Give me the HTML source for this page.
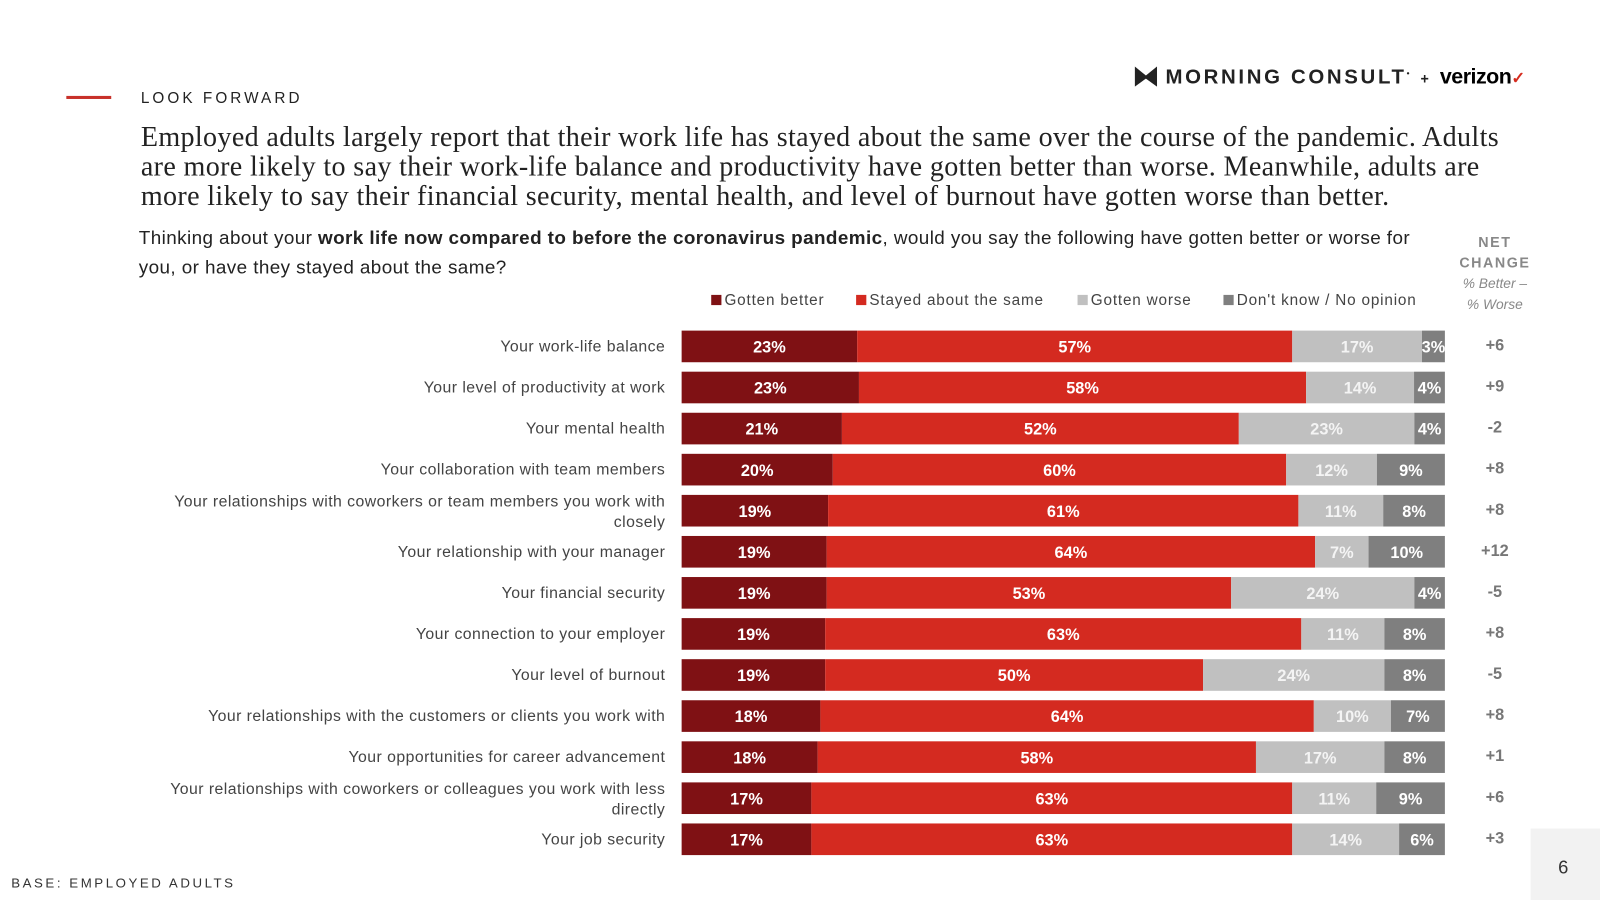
<!DOCTYPE html>
<html><head><meta charset="utf-8"><style>
body{margin:0;width:1600px;height:900px;background:#fff;position:relative;overflow:hidden;font-family:"Liberation Sans",sans-serif;}
#wrap{position:absolute;left:0;top:0;width:1568px;height:882px;transform:scale(1.0204);transform-origin:0 0;}
.abs{position:absolute;}
</style></head><body>
<div id="wrap">
<div class="abs" style="left:65px;top:94px;width:44px;height:3px;background:#c8312a"></div>
<div class="abs" style="left:138px;top:88px;font-size:15px;letter-spacing:3px;color:#222">LOOK FORWARD</div>
<div class="abs" style="left:1112px;top:64px;font-size:20px;font-weight:bold;letter-spacing:2.6px;color:#222;white-space:nowrap">
<span style="display:inline-block;width:22px;height:20px;background:#222;vertical-align:-3px;clip-path:polygon(0 0,50% 45%,100% 0,100% 100%,50% 60%,0 100%)"></span> MORNING CONSULT<sup style="font-size:8px">•</sup> <span style="font-size:14px">+</span> <span style="letter-spacing:-0.5px;font-size:21px;font-weight:bold;color:#000">verizon</span><span style="color:#d52b1e;font-size:16px">✓</span></div>
<div class="abs" style="left:138px;top:119px;width:1420px;white-space:nowrap;font-family:'Liberation Serif',serif;font-size:27.5px;letter-spacing:0.35px;line-height:29px;color:#222">Employed adults largely report that their work life has stayed about the same over the course of the pandemic. Adults<br>are more likely to say their work-life balance and productivity have gotten better than worse. Meanwhile, adults are<br>more likely to say their financial security, mental health, and level of burnout have gotten worse than better.</div>
<div class="abs" style="left:136px;top:218px;width:1300px;white-space:nowrap;font-size:18.5px;line-height:29px;color:#222;letter-spacing:0.4px">Thinking about your <b>work life now compared to before the coronavirus pandemic</b>, would you say the following have gotten better or worse for<br>you, or have they stayed about the same?</div>
<div class="abs" style="left:1415px;top:227px;width:100px;text-align:center;color:#888;font-size:14px;line-height:20px"><b style="letter-spacing:1.5px">NET<br>CHANGE</b><br><i style="font-size:13.5px">% Better –<br>% Worse</i></div>
<svg class="abs" style="left:0;top:0" width="1568" height="882" id="chart"></svg>
<div class="abs" style="left:11px;top:858px;font-size:13px;letter-spacing:2.5px;color:#333">BASE: EMPLOYED ADULTS</div>
<div class="abs" style="left:1500px;top:812px;width:68px;height:70px;background:#f2f2f2"></div>
<div class="abs" style="left:1527px;top:840px;font-size:18px;color:#333">6</div>
</div>
<script>
const categories=["Your work-life balance","Your level of productivity at work","Your mental health","Your collaboration with team members","Your relationships with coworkers or team members you work with|closely","Your relationship with your manager","Your financial security","Your connection to your employer","Your level of burnout","Your relationships with the customers or clients you work with","Your opportunities for career advancement","Your relationships with coworkers or colleagues you work with less|directly","Your job security"];
const better=[23,23,21,20,19,19,19,19,19,18,18,17,17];
const same=[57,58,52,60,61,64,53,63,50,64,58,63,63];
const worse=[17,14,23,12,11,7,24,11,24,10,17,11,14];
const dk=[3,4,4,9,8,10,4,8,8,7,8,9,6];
const net=["+6","+9","-2","+8","+8","+12","-5","+8","-5","+8","+1","+6","+3"];
const seriesNames=["Gotten better","Stayed about the same","Gotten worse","Don't know / No opinion"];
const colors=["#7f1114","#d42a20","#c0c0c0","#7f7f7f"];
const svg=document.getElementById('chart');const NS='http://www.w3.org/2000/svg';
const x0=668,x1=1416,y0=324,step=40.25,bh=31;
function mk(t,a){const e=document.createElementNS(NS,t);for(const k in a)e.setAttribute(k,a[k]);svg.appendChild(e);return e;}
const legX=[697,839,1056,1199];
seriesNames.forEach((n,i)=>{
 const r=mk('rect',{x:legX[i],y:289,width:10,height:10,fill:colors[i]});
 
 
 const t=mk('text',{x:legX[i]+13,y:299,'font-size':15,'letter-spacing':0.8,fill:'#444','font-family':'Liberation Sans'});t.textContent=n;
 
 
});
categories.forEach((c,i)=>{
 const y=y0+i*step,cy=y+bh/2;
 const vals=[better[i],same[i],worse[i],dk[i]];const tot=vals.reduce((a,b)=>a+b,0);
 let x=x0;
 vals.forEach((v,j)=>{
  const w=v/tot*(x1-x0);
  const r=mk('rect',{x:x,y:y,width:w,height:bh,fill:colors[j]});
  
  
  const t=mk('text',{x:x+w/2,y:cy+6,'text-anchor':'middle','font-size':16,'font-weight':'bold',fill:j==2?'#f4f4f4':'#fff','font-family':'Liberation Sans'});
  t.textContent=v+'%';
  
  
  x+=w;
 });
 const parts=c.split('|');
 parts.forEach((p,k)=>{
  const ty=parts.length>1?cy-4+k*20:cy+5;
  const t=mk('text',{x:652,y:ty,'text-anchor':'end','font-size':15.5,'letter-spacing':0.45,fill:'#444','font-family':'Liberation Sans'});
  t.textContent=p;
  
  
 });
 const n=mk('text',{x:1465,y:cy+4,'text-anchor':'middle','font-size':16,'font-weight':'bold',fill:'#777','font-family':'Liberation Sans'});
 n.textContent=net[i];
 
 
});
</script>
</body></html>
